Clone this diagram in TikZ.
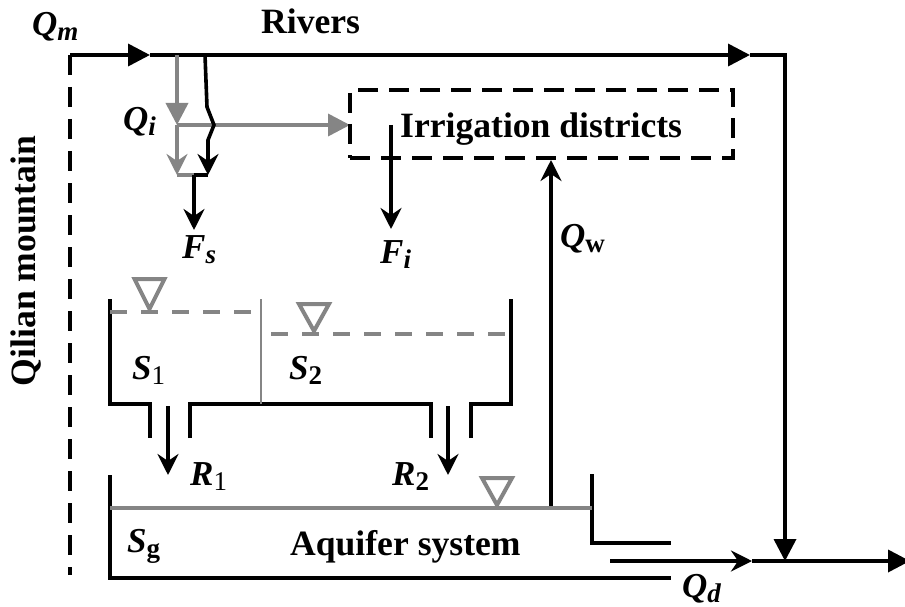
\documentclass[tikz,border=0pt]{standalone}
\usepackage{fontspec}
\setmainfont{Liberation Serif}
\usetikzlibrary{arrows.meta}
\definecolor{gr}{HTML}{858585}
\newcommand{\lowsub}[1]{\raisebox{-5pt}{\fontsize{27}{27}\selectfont #1}}
\tikzset{
 blk/.style={line width=3.6pt,black},
 gry/.style={line width=3.6pt,gr},
 thin gry/.style={line width=2pt,gr},
 open/.style={-{Stealth[length=21pt,width=21pt,inset=7pt]}},
 solid tip/.style={-{Triangle[length=22pt,width=22pt]}},
 txt/.style={font=\bfseries\fontsize{35.6}{36}\selectfont,inner sep=0pt,anchor=base west},
 sym/.style={font=\bfseries\itshape\fontsize{35}{35}\selectfont,inner sep=0pt,anchor=base west},
 wl/.style={gr,line width=4pt,line join=miter},
 dsh/.style={line width=3.6pt,gr,dash pattern=on 17pt off 14pt}
}
\begin{document}
\begin{tikzpicture}[x=1pt,y=-1pt]
\useasboundingbox (0,0) rectangle (905,607);
\coordinate (tl) at (70,55); \coordinate (bl) at (70,575);
\coordinate (a1) at (150,55); \coordinate (a2) at (750,55); \coordinate (c1) at (785,55);
\coordinate (j) at (785,561); \coordinate (o0) at (752,561); \coordinate (o1) at (910,561);
\coordinate (oo) at (610,561);
\draw[blk,dash pattern=on 20pt off 12pt] (tl) -- (bl);
\draw[blk,solid tip] (tl) -- (a1);
\draw[blk,solid tip] (a1) -- (a2);
\draw[blk,solid tip] (a2) -- (c1) -- (j);
\draw[blk,solid tip] (o0) -- (o1);
\draw[blk,open] (oo) -- (o0);
% diversion
\coordinate (g0) at (177,55); \coordinate (g1) at (177,125); \coordinate (g2) at (177,175);
\coordinate (d0) at (350,125); \coordinate (m) at (194,175);
\draw[gry,solid tip] (g0) -- (g1);
\draw[gry,open] (g1) -- (g2);
\draw[gry,solid tip] (g1) -- (d0);
\draw[gry] (g2) -- (m);
\coordinate (w0) at (205,55); \coordinate (w4) at (208,175);
\draw[blk,open] (w0) -- (207,107) -- (214,125) -- (208,140) -- (w4);
\draw[blk] (m) -- (w4);
\coordinate (fs) at (194,230);
\draw[blk,open] (m) -- (fs);
% irrigation
\node[draw,line width=3.6pt,dash pattern=on 20pt off 11pt,minimum width=383pt,minimum height=68pt,inner sep=0pt] (irr) at (541.5,124) {};
\node[txt] (irrt) at (400,138) {Irrigation districts};
\coordinate (fi0) at (391,125); \coordinate (fi) at (391,229);
\draw[blk,open] (fi0) -- (fi);
\coordinate (qw0) at (551,508); \coordinate (qw1) at (551,160);
\draw[blk,open] (qw0) -- (qw1);
% tanks
\draw[blk,line join=miter] (110,299) -- (110,404) -- (150,404) -- (150,438);
\draw[blk,line join=miter] (190,438) -- (190,404) -- (431,404) -- (431,438);
\draw[blk,line join=miter] (471,438) -- (471,404) -- (511,404) -- (511,299);
\draw[thin gry] (261,299) -- (261,404);
\draw[dsh] (110,312) -- (255,312);
\draw[dsh] (271,334) -- (508,334);
\draw[wl] (134.5,279) -- (164.5,279) -- (149.5,309) -- cycle;
\draw[wl] (299,304) -- (329,304) -- (314,331) -- cycle;
\draw[wl] (482,478) -- (512,478) -- (497,505) -- cycle;
\coordinate (r10) at (168,406); \coordinate (r11) at (168,475);
\coordinate (r20) at (448,406); \coordinate (r21) at (448,475);
\draw[blk,open] (r10) -- (r11);
\draw[blk,open] (r20) -- (r21);
% aquifer
\draw[blk,line join=miter] (110,475) -- (110,578) -- (671,578);
\draw[blk,line join=miter] (592,474) -- (592,543) -- (671,543);
\draw[gry] (110,508) -- (592,508);
% labels
\node[sym] (qm) at (32,36) {Q\lowsub{m}};
\node[txt] (riv) at (261,34) {Rivers};
\node[sym] (qi) at (123,131) {Q\lowsub{i}};
\node[sym] (fsl) at (182,258) {F\lowsub{s}};
\node[sym] (fil) at (380,263) {F\lowsub{i}};
\node[sym] (s1) at (132,379) {S\lowsub{\upshape\mdseries 1}};
\node[sym] (s2) at (289,379) {S\lowsub{\upshape 2}};
\node[sym] (r1) at (190,485) {R\lowsub{\upshape\mdseries 1}};
\node[sym] (r2) at (392,485) {R\lowsub{\upshape 2}};
\node[sym] (sg) at (127,552) {S\lowsub{\upshape g}};
\node[txt] (aq) at (290,555) {Aquifer system};
\node[sym] (qdl) at (682,597) {Q\lowsub{d}};
\node[sym] (qwl) at (560,247) {Q\lowsub{\upshape w}};
\node[txt,rotate=90,anchor=base] (qil) at (35,261) {Qilian mountain};
\end{tikzpicture}
\end{document}
